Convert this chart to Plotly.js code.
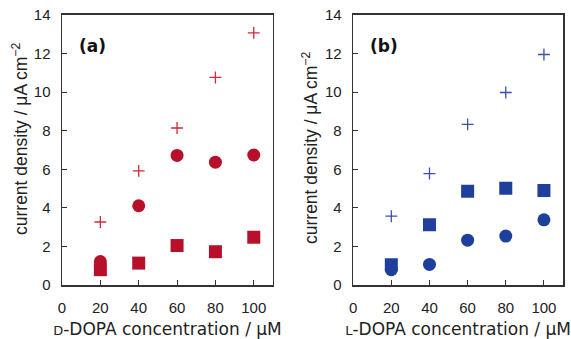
<!DOCTYPE html>
<html>
<head>
<meta charset="utf-8">
<script src="https://cdn.plot.ly/plotly-3.0.1.min.js"></script>
<style>body{margin:0;padding:0;background:#fff}#chart{width:571px;height:339px}</style>
</head>
<body>
<div id="chart"></div>
<script>
const concentration = [20, 40, 60, 80, 100];
// Panel (a) D-DOPA
const dCross = [3.27, 5.92, 8.14, 10.76, 13.07];
const dCircle = [1.22, 4.11, 6.72, 6.37, 6.74];
const dSquare = [0.8, 1.14, 2.05, 1.73, 2.48];
// Panel (b) L-DOPA
const lCross = [3.57, 5.78, 8.33, 9.98, 11.95];
const lCircle = [0.8, 1.07, 2.33, 2.54, 3.38];
const lSquare = [1.05, 3.13, 4.86, 5.02, 4.9];
const xTicks = [0, 20, 40, 60, 80, 100];
const yTicks = [0, 2, 4, 6, 8, 10, 12, 14];
const yTitle = 'current density / μA cm<sup>−2</sup>';

const red = '#b8102a', redCross = '#d02a3c';
const blue = '#1f3f9c', blueCross = '#3d4fae';

function tr(y, xa, ya, sym, color, size, lw) {
  return {x: concentration, y: y, xaxis: xa, yaxis: ya, type: 'scatter', mode: 'markers',
    marker: {symbol: sym, color: color, size: size, line: {color: color, width: lw}},
    hoverinfo: 'x+y', showlegend: false};
}
const data = [
  tr(dCross, 'x', 'y', 'cross-thin-open', redCross, 8.5, 1.3),
  tr(dCircle, 'x', 'y', 'circle', red, 13, 0),
  tr(dSquare, 'x', 'y', 'square', red, 13, 0),
  tr(lCross, 'x2', 'y2', 'cross-thin-open', blueCross, 8.5, 1.3),
  tr(lCircle, 'x2', 'y2', 'circle', blue, 13, 0),
  tr(lSquare, 'x2', 'y2', 'square', blue, 13, 0)
];

const fam = 'Liberation Sans, Arial, sans-serif';
const wide = 'DejaVu Sans, sans-serif';
const font = {family: fam, size: 15, color: '#222'};
function xax(domain, anchor, title) {
  return {domain: domain, anchor: anchor, range: [0, 110], tickvals: xTicks, ticks: 'inside', ticklen: 5,
    tickcolor: '#333', showline: true, linecolor: '#333', linewidth: 1.5, mirror: true, showgrid: false,
    zeroline: false, ticklabelstandoff: 8, tickfont: {family: fam, size: 15, color: '#222'},
    title: {text: title, font: {family: wide, size: 17, color: '#222'}, standoff: 9}};
}
function yax(anchor) {
  return {domain: [0.159, 0.956], anchor: anchor, range: [0, 14], tickvals: yTicks, ticks: 'inside', ticklen: 5,
    tickcolor: '#333', showline: true, linecolor: '#333', linewidth: 1.5, mirror: true, showgrid: false,
    zeroline: false, ticklabelstandoff: 7, tickfont: {family: fam, size: 15, color: '#222'}};
}
const layout = {
  width: 571, height: 339, margin: {l: 0, r: 0, t: 0, b: 0},
  paper_bgcolor: '#fff', plot_bgcolor: '#fff', font: font,
  xaxis: xax([0.1086, 0.478], 'y', '<span style="font-size:13px">D</span>-DOPA concentration / μM'),
  yaxis: yax('x'),
  xaxis2: xax([0.6185, 0.986], 'y2', '<span style="font-size:13px">L</span>-DOPA concentration / μM'),
  yaxis2: yax('x2'),
  annotations: [
    {text: '<b>(a)</b>', xref: 'x', yref: 'y', x: 8, y: 12.4, showarrow: false, xanchor: 'left', yanchor: 'middle', font: {family: wide, size: 17, color: '#111'}},
    {text: '<b>(b)</b>', xref: 'x2', yref: 'y2', x: 8, y: 12.4, showarrow: false, xanchor: 'left', yanchor: 'middle', font: {family: wide, size: 17, color: '#111'}},
    {text: yTitle, xref: 'paper', yref: 'paper', x: 20 / 571, y: 1 - 139 / 339, textangle: -90, showarrow: false, xanchor: 'center', yanchor: 'middle', font: {family: fam, size: 17.5, color: '#222'}},
    {text: yTitle, xref: 'paper', yref: 'paper', x: 310 / 571, y: 1 - 148 / 339, textangle: -90, showarrow: false, xanchor: 'center', yanchor: 'middle', font: {family: fam, size: 17.5, color: '#222'}}
  ]
};
Plotly.newPlot('chart', data, layout, {displayModeBar: false, staticPlot: true});
</script>
</body>
</html>
